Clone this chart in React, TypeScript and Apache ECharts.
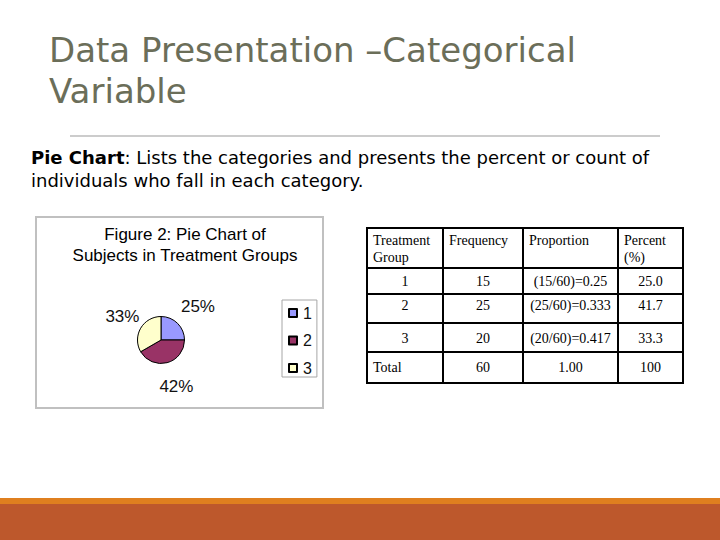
import React, { useEffect, useRef } from "react";
import * as echarts from "echarts";

const categories = ["1", "2", "3"];
const frequencies = [15, 25, 20];
const proportions = ["(15/60)=0.25", "(25/60)=0.333", "(20/60)=0.417"];
const percents = ["25.0", "41.7", "33.3"];
const tableHeaders = ["Treatment\nGroup", "Frequency", "Proportion", "Percent\n(%)"];
const totalRow = ["Total", "60", "1.00", "100"];
const pieColors = ["#9999ff", "#993366", "#ffffcc"];

const slideTitleLines = ["Data Presentation \u2013Categorical", "Variable"];
const figureTitle = "Figure 2: Pie Chart of\nSubjects in Treatment Groups";

export default function App() {
  const ref = useRef<HTMLDivElement>(null);
  useEffect(() => {
    if (!ref.current) return;
    const chart = echarts.init(ref.current, undefined, { renderer: "svg" });

    const colX = [367, 443, 523, 618, 683];
    const rowY = [228, 268, 294, 323, 352, 383];
    const rowTextY = [281, 305, 338, 367];
    const tableEls: any[] = [];
    tableEls.push({
      type: "rect",
      shape: { x: colX[0], y: rowY[0], width: colX[4] - colX[0], height: rowY[5] - rowY[0] },
      style: { fill: "none", stroke: "#000", lineWidth: 2 },
    });
    for (let i = 1; i < colX.length - 1; i++) {
      tableEls.push({
        type: "line",
        shape: { x1: colX[i], y1: rowY[0], x2: colX[i], y2: rowY[5] },
        style: { stroke: "#000", lineWidth: 2 },
      });
    }
    for (let j = 1; j < rowY.length - 1; j++) {
      tableEls.push({
        type: "line",
        shape: { x1: colX[0], y1: rowY[j], x2: colX[4], y2: rowY[j] },
        style: { stroke: "#000", lineWidth: 2 },
      });
    }
    const cellFont = { fontFamily: "Liberation Serif", fontSize: 14, fill: "#000" };
    tableHeaders.forEach((h, i) => {
      tableEls.push({
        type: "text",
        x: colX[i] + 6,
        y: rowY[0] + 4,
        style: { ...cellFont, text: h, lineHeight: 17, align: "left", verticalAlign: "top" },
      });
    });
    const bodyRows = categories.map((c, i) => [c, String(frequencies[i]), proportions[i], percents[i]]);
    bodyRows.push(totalRow);
    bodyRows.forEach((row, r) => {
      row.forEach((val, c) => {
        const leftAligned = r === bodyRows.length - 1 && c === 0;
        tableEls.push({
          type: "text",
          x: leftAligned ? colX[c] + 6 : (colX[c] + colX[c + 1]) / 2,
          y: rowTextY[r],
          style: { ...cellFont, text: val, align: leftAligned ? "left" : "center", verticalAlign: "middle" },
        });
      });
    });

    const pieData = categories.map((c, i) => ({
      name: c,
      value: frequencies[i],
      itemStyle: { color: pieColors[i] },
    }));
    const labelData = categories.map((c, i) => ({ name: "lbl" + c, value: frequencies[i] }));

    chart.setOption({
      animation: false,
      backgroundColor: "#ffffff",
      graphic: [
        ...slideTitleLines.map((t, i) => ({
          type: "text",
          x: 49,
          y: 50 + i * 41,
          style: {
            text: t,
            fontFamily: "DejaVu Sans",
            fontSize: 34,
            fill: "#6b6e59",
            align: "left",
            verticalAlign: "middle",
          },
        })),
        {
          type: "line",
          shape: { x1: 70, y1: 136, x2: 660, y2: 136 },
          style: { stroke: "#999999", lineWidth: 1 },
        },
        {
          type: "text",
          x: 31,
          y: 146,
          style: {
            text: "{b|Pie Chart}: Lists the categories and presents the percent or count of\nindividuals who fall in each category.",
            fontFamily: "DejaVu Sans",
            fontSize: 18,
            lineHeight: 23,
            fill: "#000",
            align: "left",
            verticalAlign: "top",
            rich: { b: { fontWeight: "bold", fontFamily: "DejaVu Sans", fontSize: 18, lineHeight: 23, fill: "#000" } },
          },
        },
        {
          type: "rect",
          shape: { x: 36, y: 217, width: 287, height: 191 },
          style: { fill: "#fff", stroke: "#c0c0c0", lineWidth: 2 },
          z: -1,
        },
        {
          type: "text",
          x: 185,
          y: 224,
          style: {
            text: figureTitle,
            fontFamily: "Liberation Sans",
            fontSize: 17,
            lineHeight: 21,
            fill: "#000",
            align: "center",
            verticalAlign: "top",
          },
        },
        ...tableEls,
        {
          type: "rect",
          shape: { x: 0, y: 498, width: 720, height: 6 },
          style: { fill: "#df7f1f" },
        },
        {
          type: "rect",
          shape: { x: 0, y: 504, width: 720, height: 36 },
          style: { fill: "#bd582c" },
        },
      ],
      legend: {
        data: categories,
        orient: "vertical",
        left: 282,
        top: 300,
        icon: "rect",
        itemWidth: 8,
        itemHeight: 8,
        itemGap: 11.5,
        padding: [5, 5, 1, 6],
        borderColor: "#a6a6a6",
        borderWidth: 1,
        selectedMode: false,
        textStyle: { fontFamily: "Liberation Sans", fontSize: 16, color: "#111", padding: [0, 0, 0, 1] },
      },
      series: [
        {
          type: "pie",
          center: [161, 340],
          radius: 23.5,
          startAngle: 90,
          clockwise: true,
          label: { show: false },
          labelLine: { show: false },
          itemStyle: { borderColor: "#000", borderWidth: 1 },
          emphasis: { disabled: true },
          data: pieData,
          z: 3,
        },
        {
          type: "pie",
          center: [164, 340],
          radius: 90,
          startAngle: 90,
          clockwise: true,
          silent: true,
          percentPrecision: 0,
          itemStyle: { color: "transparent", borderWidth: 0 },
          label: {
            show: true,
            position: "inside",
            rotate: 0,
            formatter: "{d}%",
            fontFamily: "Liberation Sans",
            fontSize: 17,
            color: "#111",
          },
          labelLine: { show: false },
          emphasis: { disabled: true },
          data: labelData,
          z: 1,
        },
      ],
    });
    return () => chart.dispose();
  }, []);
  return (
    <div
      ref={ref}
      style={{ position: "absolute", left: 0, top: 0, width: 720, height: 540 }}
    />
  );
}
